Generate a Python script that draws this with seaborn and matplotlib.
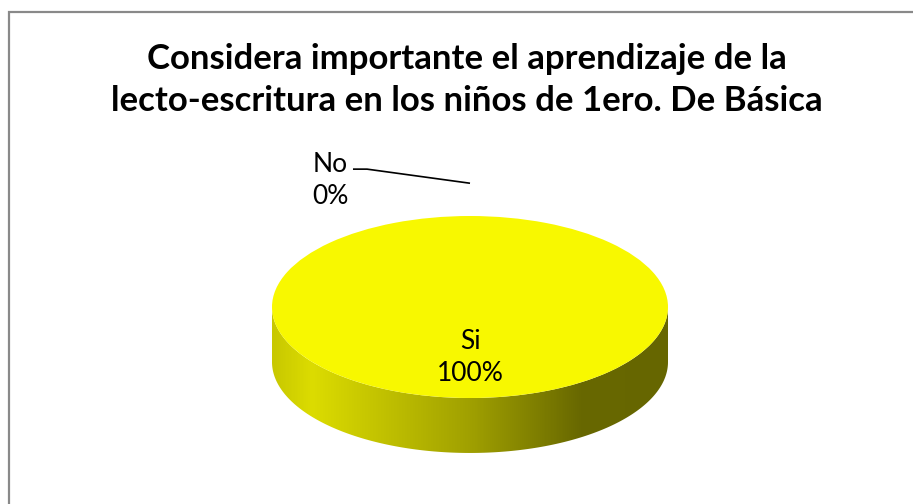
import numpy as np
import matplotlib
matplotlib.use("Agg")
import matplotlib.pyplot as plt
import seaborn as sns
from matplotlib.colors import LinearSegmentedColormap
from matplotlib.patches import Polygon, Rectangle

# data
categories = ["Si", "No"]
percent = [100, 0]
title = "Considera importante el aprendizaje de la\nlecto-escritura en los niños de 1ero. De Básica"

sns.set_theme(style="white")
plt.rcParams['font.family'] = ['Lato', 'DejaVu Sans']

top_colors = ["#f8f800", "#4f81bd"]
side_cmap = LinearSegmentedColormap.from_list(
    "side", [(0, "#c8c800"), (0.1, "#dcdc00"), (0.5, "#a0a000"),
             (0.78, "#686800"), (1, "#666600")])

fig = plt.figure(figsize=(9.13, 5.04), dpi=100)
ax = fig.add_axes([0, 0, 1, 1])

wedges, _ = ax.pie(percent, colors=top_colors, startangle=90,
                   counterclock=False, radius=1, center=(0, 0),
                   wedgeprops=dict(linewidth=0))
ax.set_aspect('auto')
# ellipse: 198 px wide radius, 91 px tall radius, centre at (470, 307) px
ax.set_xlim(-470 / 198, (913 - 470) / 198)
ax.set_ylim(-(504 - 307) / 91, 307 / 91)
ax.axis('off')

depth = 0.604
for w, val in zip(wedges, percent):
    if val <= 0:
        continue
    t1, t2 = w.theta1, w.theta2
    for k in (-360, 0, 360):
        lo, hi = max(t1, -180 + k), min(t2, k)
        if hi <= lo:
            continue
        t = np.radians(np.linspace(lo, hi, 200))
        xs, ys = np.cos(t), np.sin(t)
        pts = np.column_stack([np.r_[xs, xs[::-1]], np.r_[ys, ys[::-1] - depth]])
        poly = Polygon(pts, closed=True, facecolor='none', edgecolor='none')
        ax.add_patch(poly)
        grad = np.linspace(0, 1, 256).reshape(1, -1)
        im = ax.imshow(grad, cmap=side_cmap, extent=(-1, 1, -1 - depth, 0),
                       aspect='auto', zorder=0)
        im.set_clip_path(poly)

# labels
for w, cat, val in zip(wedges, categories, percent):
    mid = np.radians((w.theta1 + w.theta2) / 2)
    txt = f"{cat}\n{val}%"
    if val > 0:
        ax.text(0.56 * np.cos(mid), 0.56 * np.sin(mid), txt, ha='center',
                va='center', fontsize=19, linespacing=1.35, color='black')
    else:
        ax0, ay0 = 1.36 * np.cos(mid), 1.36 * np.sin(mid)
        tx, ty = ax0 - 0.707, ay0 + 0.035
        ax.text(tx, ty, txt, ha='center', va='center', fontsize=19,
                linespacing=1.35, color='black')
        ax.plot([tx + 0.116, tx + 0.187, ax0], [ty + 0.12, ty + 0.12, ay0],
                color='black', lw=1.2, solid_capstyle='butt')

fig.text(467 / 913, 1 - 80 / 504, title, ha='center', va='center',
         fontsize=25, fontweight='bold', linespacing=1.38, color='black')

# chart border (only top and left visible)
fig.patches.append(Rectangle((8.5 / 913, -0.1), 1.2, 1 - 11.5 / 504 + 0.1,
                             transform=fig.transFigure, fill=False,
                             edgecolor='#898989', lw=1.6))

fig.savefig("out.png", dpi=100, facecolor='white')
